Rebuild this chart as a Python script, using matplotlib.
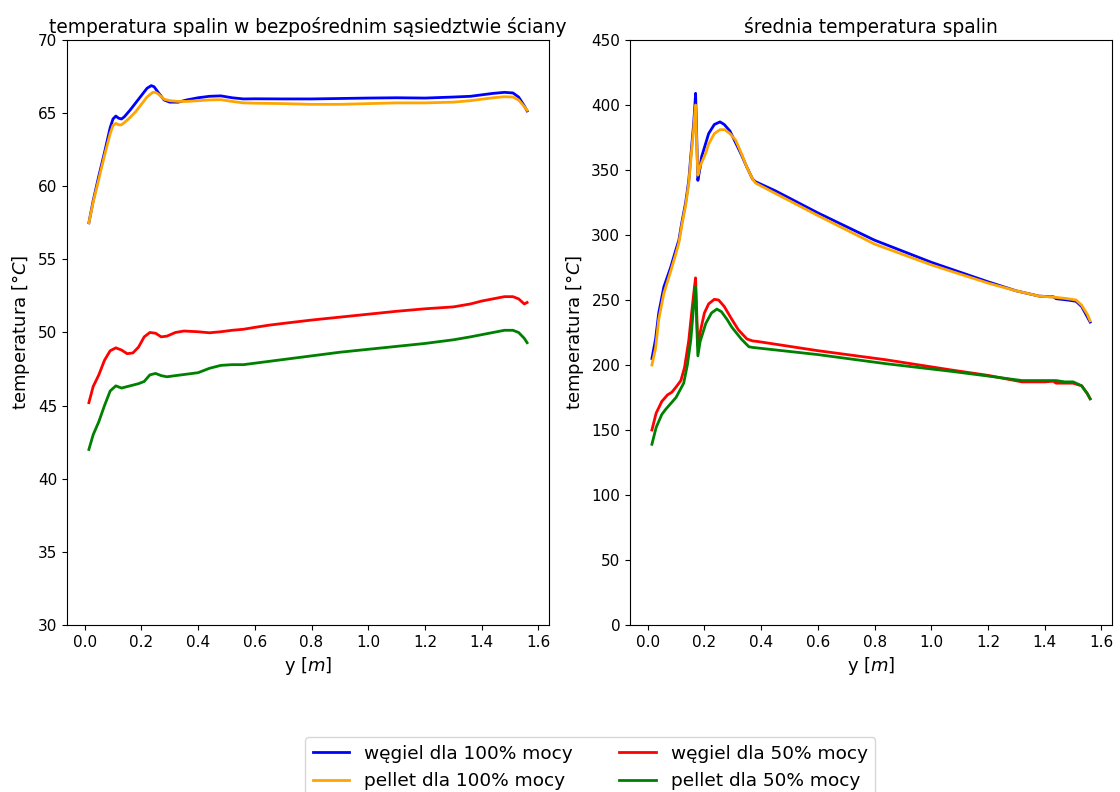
import matplotlib
matplotlib.use("Agg")
import matplotlib.pyplot as plt

# ---- left panel: wall-adjacent flue gas temperature ----
xl_w100 = [0.015, 0.03, 0.05, 0.07, 0.09, 0.10, 0.11, 0.12, 0.13, 0.14, 0.16, 0.18, 0.20, 0.22, 0.235,
           0.245, 0.26, 0.28, 0.30, 0.33, 0.36, 0.40, 0.44, 0.48, 0.52, 0.56, 0.60, 0.70, 0.80, 0.90,
           1.00, 1.10, 1.20, 1.30, 1.36, 1.40, 1.44, 1.48, 1.51, 1.53, 1.55, 1.56]
yl_w100 = [57.5, 59.0, 60.7, 62.3, 64.0, 64.6, 64.8, 64.65, 64.6, 64.75, 65.2, 65.7, 66.2, 66.7, 66.88,
           66.8, 66.4, 65.9, 65.75, 65.75, 65.9, 66.05, 66.15, 66.18, 66.05, 65.97, 65.98, 65.97, 65.97, 66.0,
           66.03, 66.05, 66.03, 66.1, 66.15, 66.25, 66.35, 66.42, 66.38, 66.1, 65.5, 65.15]

xl_p100 = [0.015, 0.03, 0.05, 0.07, 0.09, 0.10, 0.11, 0.12, 0.13, 0.14, 0.16, 0.18, 0.20, 0.22, 0.24,
           0.25, 0.26, 0.28, 0.30, 0.33, 0.36, 0.40, 0.44, 0.48, 0.52, 0.56, 0.60, 0.70, 0.80, 0.90,
           1.00, 1.10, 1.20, 1.30, 1.36, 1.40, 1.44, 1.48, 1.51, 1.53, 1.55, 1.56]
yl_p100 = [57.5, 58.9, 60.5, 62.1, 63.6, 64.15, 64.3, 64.2, 64.2, 64.35, 64.7, 65.1, 65.6, 66.1, 66.42,
           66.42, 66.3, 65.95, 65.85, 65.8, 65.8, 65.85, 65.9, 65.92, 65.8, 65.7, 65.68, 65.65, 65.6, 65.6,
           65.65, 65.7, 65.7, 65.75, 65.85, 65.95, 66.05, 66.12, 66.1, 65.9, 65.45, 65.2]

xl_w50 = [0.015, 0.03, 0.05, 0.07, 0.09, 0.11, 0.13, 0.15, 0.17, 0.19, 0.21, 0.23, 0.25, 0.27, 0.29,
          0.32, 0.35, 0.40, 0.44, 0.48, 0.52, 0.56, 0.60, 0.65, 0.70, 0.80, 0.90, 1.00, 1.10, 1.20,
          1.30, 1.36, 1.40, 1.44, 1.48, 1.51, 1.53, 1.55, 1.56]
yl_w50 = [45.2, 46.3, 47.1, 48.1, 48.75, 48.95, 48.8, 48.55, 48.6, 49.0, 49.7, 50.0, 49.95, 49.7, 49.75,
          50.0, 50.1, 50.05, 49.98, 50.05, 50.15, 50.22, 50.35, 50.5, 50.62, 50.85, 51.05, 51.25, 51.45, 51.62,
          51.75, 51.95, 52.15, 52.3, 52.45, 52.45, 52.3, 51.95, 52.05]

xl_p50 = [0.015, 0.03, 0.05, 0.07, 0.09, 0.11, 0.13, 0.15, 0.17, 0.19, 0.21, 0.23, 0.25, 0.27, 0.29,
          0.32, 0.36, 0.40, 0.44, 0.48, 0.52, 0.56, 0.60, 0.70, 0.80, 0.90, 1.00, 1.10, 1.20, 1.30,
          1.36, 1.40, 1.44, 1.48, 1.51, 1.53, 1.55, 1.56]
yl_p50 = [42.0, 43.0, 43.9, 45.0, 46.0, 46.35, 46.2, 46.3, 46.4, 46.5, 46.65, 47.1, 47.2, 47.05, 46.97,
          47.05, 47.15, 47.25, 47.55, 47.75, 47.8, 47.8, 47.9, 48.15, 48.4, 48.65, 48.85, 49.05, 49.25, 49.5,
          49.7, 49.85, 50.0, 50.15, 50.15, 50.0, 49.6, 49.3]

# ---- right panel: mean flue gas temperature ----
xr_w100 = [0.015, 0.028, 0.039, 0.057, 0.081, 0.10, 0.11, 0.12, 0.134, 0.145, 0.155, 0.162, 0.166, 0.169,
           0.173, 0.177, 0.185, 0.19, 0.215, 0.235, 0.255, 0.27, 0.29, 0.31, 0.33, 0.35, 0.37, 0.38,
           0.45, 0.60, 0.80, 1.00, 1.20, 1.30, 1.38, 1.42, 1.43, 1.44, 1.48, 1.51, 1.53, 1.55, 1.56]
yr_w100 = [205, 220, 240, 260, 275, 289, 296, 309, 325, 342, 368, 385, 398, 409,
           375, 342, 352, 360, 378, 385, 387, 385, 380, 371, 362, 352, 343, 341,
           334, 317, 296, 279, 264, 257, 253, 252.5, 252.5, 251, 250, 249, 245, 237, 233]

xr_p100 = [0.015, 0.028, 0.039, 0.057, 0.081, 0.10, 0.11, 0.12, 0.134, 0.145, 0.155, 0.162, 0.166, 0.169,
           0.173, 0.177, 0.185, 0.205, 0.215, 0.235, 0.255, 0.272, 0.29, 0.31, 0.33, 0.35, 0.37, 0.38,
           0.45, 0.60, 0.80, 1.00, 1.20, 1.30, 1.38, 1.44, 1.48, 1.51, 1.53, 1.55, 1.56]
yr_p100 = [200, 213, 235, 255, 272, 286, 294, 307, 323, 340, 365, 381, 393, 400,
           370, 346, 353, 363, 370, 378, 381, 381, 378, 373, 363, 352, 343, 340,
           332, 315, 293, 277, 263, 257, 253, 252, 251, 250, 246, 239, 234]

xr_w50 = [0.015, 0.03, 0.05, 0.07, 0.085, 0.10, 0.117, 0.13, 0.145, 0.155, 0.165, 0.169, 0.173, 0.177,
          0.185, 0.20, 0.215, 0.235, 0.25, 0.27, 0.297, 0.32, 0.35, 0.37, 0.39, 0.60, 0.84, 1.075,
          1.20, 1.32, 1.40, 1.43, 1.44, 1.50, 1.53, 1.55, 1.56]
yr_w50 = [150, 163, 172, 177, 179, 183, 188, 198, 219, 240, 260, 267, 240, 215,
          225, 240, 247, 250.5, 250, 245, 235, 227, 220, 218.5, 218, 211, 204, 196,
          192, 187, 187, 187.5, 186, 186, 184, 178, 174]

xr_p50 = [0.015, 0.03, 0.05, 0.064, 0.08, 0.10, 0.127, 0.14, 0.152, 0.162, 0.169, 0.173, 0.177,
          0.185, 0.205, 0.225, 0.244, 0.26, 0.28, 0.297, 0.33, 0.357, 0.37, 0.60, 0.84, 1.075,
          1.20, 1.32, 1.44, 1.47, 1.50, 1.53, 1.55, 1.56]
yr_p50 = [139, 152, 162, 166, 170, 175, 186, 200, 219, 245, 260, 232, 207,
          218, 232, 240, 243, 241, 235, 229, 220, 214, 213.5, 208, 201, 195,
          191.5, 188, 188, 187, 187, 184, 178, 174]

labels = ["węgiel dla 100% mocy", "pellet dla 100% mocy", "węgiel dla 50% mocy", "pellet dla 50% mocy"]
colors = ["blue", "orange", "red", "green"]

fig = plt.figure(figsize=(11.2, 7.92), dpi=100)
ax1 = fig.add_axes([0.0598, 0.2109, 0.4304, 0.7386])
ax2 = fig.add_axes([0.5625, 0.2109, 0.4304, 0.7386])

left = [(xl_w100, yl_w100), (xl_p100, yl_p100), (xl_w50, yl_w50), (xl_p50, yl_p50)]
right = [(xr_w100, yr_w100), (xr_p100, yr_p100), (xr_w50, yr_w50), (xr_p50, yr_p50)]

lines = []
for (x, y), c, lab in zip(left, colors, labels):
    ln, = ax1.plot(x, y, color=c, lw=2, label=lab)
    lines.append(ln)
for (x, y), c in zip(right, colors):
    ax2.plot(x, y, color=c, lw=2)

ax1.set_ylim(30, 70)
ax2.set_ylim(0, 450)
for ax in (ax1, ax2):
    ax.set_xlabel(r"y [$m$]", fontsize=13)
    ax.set_ylabel(r"temperatura [$\degree C$]", fontsize=13)
    ax.tick_params(labelsize=11)
ax1.set_title("temperatura spalin w bezpośrednim sąsiedztwie ściany", fontsize=13.4, pad=5)
ax2.set_title("średnia temperatura spalin", fontsize=13.4, pad=5)

fig.legend(handles=lines, labels=labels, loc="upper center", bbox_to_anchor=(0.527, 0.069),
           ncol=2, fontsize=13.3, columnspacing=2.5, handlelength=2.0, borderaxespad=0.0)

fig.savefig("out.png", dpi=100)
